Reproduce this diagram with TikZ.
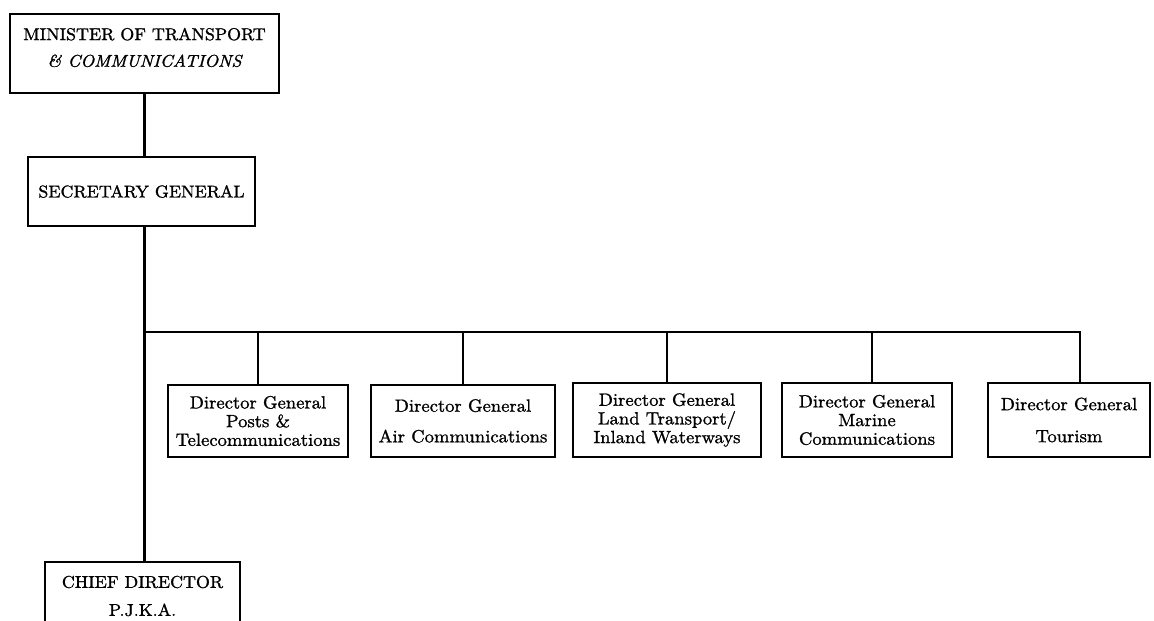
\documentclass[tikz,border=0pt]{standalone}
\usepackage{fontspec}
\setmainfont{lmroman10-regular.otf}[ItalicFont=lmroman10-italic.otf,BoldFont=lmroman10-bold.otf,FakeStretch=1.05,FakeBold=1.2]
\begin{document}
\begin{tikzpicture}[x=0.75pt,y=-0.75pt,
  box/.style={draw, line width=1.2pt, align=center, inner sep=0pt, anchor=center},
  conn/.style={line width=2pt, line join=miter},
  capsfont/.style={font=\fontsize{12.8}{13}\selectfont},
  dirfont/.style={font=\fontsize{13.3}{14}\selectfont}]
\useasboundingbox (0,0) rectangle (1154,621);
\clip (0,0) rectangle (1154,621);

\node[box, minimum width=201.75pt, minimum height=59.25pt] (min) at (144.5,53.5) {};
\node[capsfont, align=center, inner sep=0pt] (mintxt) at (144.5,47.5)
  {MINISTER OF TRANSPORT\\[7pt]{\itshape \& COMMUNICATIONS}};
\node[box, capsfont, minimum width=170.25pt, minimum height=51.75pt] (sec) at (141.5,191.5)
  {SECRETARY GENERAL};

\node[box, dirfont, minimum width=135pt, minimum height=54pt] (posts) at (258,421)
  {Director General\\Posts \&\\Telecommunications};
\node[box, dirfont, minimum width=138pt, minimum height=54pt] (air) at (463,421)
  {Director General\\[9pt]Air Communications};
\node[box, dirfont, minimum width=141pt, minimum height=55.5pt] (land) at (667,420)
  {Director General\\Land Transport/\\Inland Waterways};
\node[box, dirfont, minimum width=127.5pt, minimum height=55.5pt] (marine) at (867,420)
  {Director General\\Marine\\Communications};
\node[box, dirfont, minimum width=121.5pt, minimum height=55.5pt] (tour) at (1069,420)
  {Director General\\[10pt]Tourism};

\node[box, capsfont, minimum width=146.25pt, minimum height=51pt] (chief) at (142.5,596)
  {CHIEF DIRECTOR\\[8pt]P.J.K.A.};

% connectors
\draw[conn] (min.south) -- (min.south |- sec.north);
\coordinate (trunktop) at (min.south |- sec.south);
\draw[conn] (trunktop) -- (trunktop |- chief.north);
\coordinate (busL) at (144.5,332);
\coordinate (tdrop) at (1080,332);
\coordinate (mdrop) at (872,332);
\draw[conn] (busL) -- (tdrop) -- (tdrop |- tour.north);
\draw[conn] (posts.north |- busL) -- (posts.north);
\draw[conn] (air.north |- busL) -- (air.north);
\draw[conn] (land.north |- busL) -- (land.north);
\draw[conn] (mdrop) -- (mdrop |- marine.north);
\end{tikzpicture}
\end{document}
